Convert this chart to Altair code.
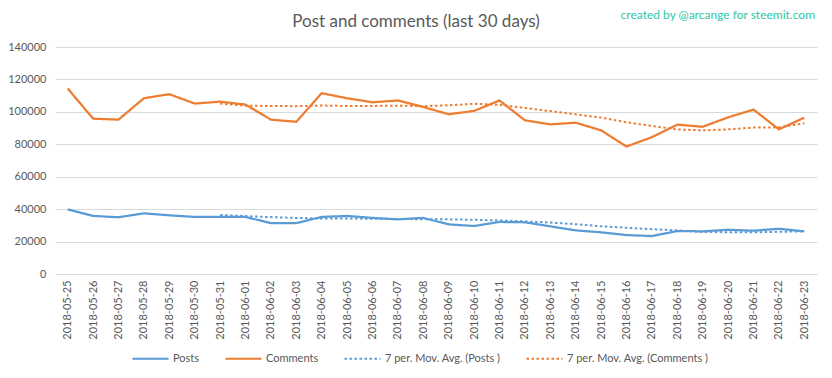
import altair as alt
import pandas as pd

dates = [
    "2018-05-25", "2018-05-26", "2018-05-27", "2018-05-28", "2018-05-29", "2018-05-30", "2018-05-31",
    "2018-06-01", "2018-06-02", "2018-06-03", "2018-06-04", "2018-06-05", "2018-06-06", "2018-06-07",
    "2018-06-08", "2018-06-09", "2018-06-10", "2018-06-11", "2018-06-12", "2018-06-13", "2018-06-14",
    "2018-06-15", "2018-06-16", "2018-06-17", "2018-06-18", "2018-06-19", "2018-06-20", "2018-06-21",
    "2018-06-22", "2018-06-23",
]
posts = [39900, 35800, 35000, 37400, 36200, 35200, 35200, 35200, 31400, 31400,
         35200, 35800, 34600, 33700, 34600, 30600, 29600, 32100, 31900, 29400,
         26900, 25700, 24000, 23400, 26500, 26300, 27300, 26700, 27900, 26300]
comments = [114400, 95800, 95200, 108400, 110900, 105100, 106300, 104500, 95200, 93900,
            111500, 108400, 105900, 107000, 103000, 98500, 100600, 107000, 94800, 92300,
            93300, 88600, 78600, 84400, 92100, 90800, 96600, 101400, 89200, 96400]

series_names = ["Posts", "Comments"]
legend_labels = ["Posts", "Comments", "7 per. Mov. Avg. (Posts )", "7 per. Mov. Avg. (Comments )"]
colors = ["#5B9BD5", "#ED7D31", "#5B9BD5", "#ED7D31"]
dashes = [[1, 0], [1, 0], [2.5, 2.5], [2.5, 2.5]]
y_ticks = [0, 20000, 40000, 60000, 80000, 100000, 120000, 140000]
title_text = "Post and comments (last 30 days)"
credit_text = "created by @arcange for steemit.com"

rows = []
for d, p, c in zip(dates, posts, comments):
    rows.append({"date": d, "series": series_names[0], "value": p})
    rows.append({"date": d, "series": series_names[1], "value": c})
df = pd.DataFrame(rows)

FONT = "Lato"
GRAY = "#595959"

legend = alt.Legend(
    title=None, orient="none", legendX=76, legendY=292, direction="horizontal",
    symbolType="stroke", symbolStrokeWidth=2, symbolSize=1300, labelFontSize=11,
    labelColor=GRAY, labelFont=FONT, columnPadding=21, labelOffset=3,
)

x_enc = alt.X("date:O", title=None, sort=dates,
              axis=alt.Axis(labelAngle=270, ticks=False, grid=False, domain=True,
                            domainColor="#D9D9D9", labelPadding=6, labelFontSize=11,
                            labelColor=GRAY, labelFont=FONT))
y_enc = alt.Y("value:Q", title=None,
              scale=alt.Scale(domain=[0, 140000], nice=False),
              axis=alt.Axis(values=y_ticks, format="d", grid=True, gridColor="#D9D9D9",
                            domain=False, ticks=False, labelPadding=9, labelFontSize=11,
                            labelOverlap=False, labelColor=GRAY, labelFont=FONT))
color_enc = alt.Color("series:N", scale=alt.Scale(domain=legend_labels, range=colors), legend=legend)
dash_enc = alt.StrokeDash("series:N", scale=alt.Scale(domain=legend_labels, range=dashes), legend=legend)

base = alt.Chart(df)

lines = base.mark_line(strokeWidth=2.25).encode(
    x=x_enc, y=y_enc, color=color_enc, strokeDash=dash_enc
)

ma = base.transform_window(
    ma="mean(value)", cnt="count()", frame=[-6, 0], groupby=["series"], sort=[{"field": "date"}]
).transform_filter("datum.cnt == 7").transform_calculate(
    series="'7 per. Mov. Avg. (' + datum.series + ' )'", value="datum.ma"
).mark_line(strokeWidth=2).encode(
    x=x_enc, y=y_enc, color=color_enc, strokeDash=dash_enc,
)

title = alt.Chart(pd.DataFrame({"t": [title_text]})).mark_text(
    font=FONT, fontSize=17, color=GRAY, align="center", baseline="middle"
).encode(text="t:N", x=alt.value(361), y=alt.value(-25))

credit = alt.Chart(pd.DataFrame({"t": [credit_text]})).mark_text(
    font=FONT, fontSize=12, color="#2DC6A3", align="right", baseline="middle"
).encode(text="t:N", x=alt.value(760), y=alt.value(-32))

chart = alt.layer(lines, ma, title, credit).properties(
    width=762, height=227,
    autosize=alt.AutoSizeParams(type="none"),
    padding={"left": 47, "top": 39, "right": 7, "bottom": 96},
    background="white",
).configure_view(stroke=None)

chart.save("out.html", embed_options={"renderer": "svg", "actions": False})
